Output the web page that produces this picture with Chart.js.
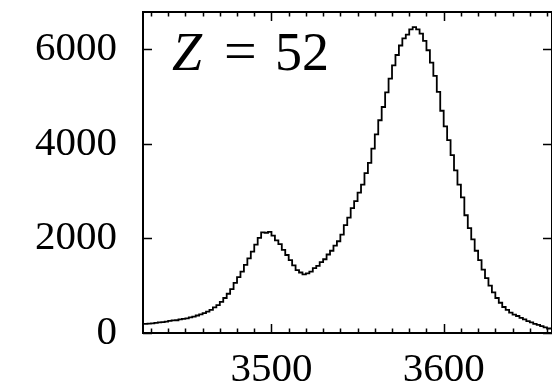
<!DOCTYPE html>
<html>
<head>
<meta charset="utf-8">
<script src="https://cdn.jsdelivr.net/npm/chart.js@4"></script>
<style>
  html, body { margin: 0; padding: 0; background: #fff; }
  #c { display: block; }
</style>
</head>
<body>
<canvas id="c" width="552" height="389"></canvas>
<script>
// histogram, Z = 52, bins of width 2 starting at 3426
const binStart = 3426;
const binWidth = 2;
const counts = [
  190, 195, 200, 205, 215, 225, 230, 240, 255, 265,
  270, 290, 300, 310, 330, 345, 370, 395, 420, 450,
  490, 540, 590, 660, 740, 830, 930, 1060, 1180, 1300,
  1440, 1580, 1720, 1870, 2010, 2130, 2120, 2140, 2060, 1960,
  1880, 1760, 1650, 1540, 1430, 1330, 1280, 1240, 1260, 1300,
  1370, 1420, 1500, 1560, 1660, 1740, 1850, 1940, 2080, 2280,
  2440, 2640, 2790, 2970, 3140, 3380, 3600, 3900, 4200, 4500,
  4780, 5090, 5380, 5660, 5880, 6080, 6230, 6310, 6420, 6470,
  6420, 6330, 6180, 5980, 5720, 5440, 5100, 4700, 4370, 4080,
  3760, 3440, 3140, 2870, 2490, 2220, 1980, 1740, 1540, 1340,
  1160, 1000, 860, 740, 640, 550, 490, 430, 390, 360,
  320, 290, 250, 225, 195, 170, 145, 120, 95
];
const xTickLabels = [3500, 3600];
const yTickLabels = [0, 2000, 4000, 6000];
const label = ['Z', '=', '52'];

const points = counts.map((c, i) => ({ x: binStart + i * binWidth, y: c }));
points.push({ x: binStart + counts.length * binWidth, y: counts[counts.length - 1] });

const serif = '"Liberation Serif", "DejaVu Serif", serif';

const frame = {
  id: 'frame',
  afterDatasetsDraw(chart) {
    const { ctx, chartArea: a, scales: { x, y } } = chart;
    ctx.save();
    ctx.strokeStyle = '#000';
    ctx.lineWidth = 2;
    ctx.strokeRect(a.left, a.top, a.right - a.left, a.bottom - a.top);
    ctx.lineWidth = 1.5;
    ctx.beginPath();
    for (let v = Math.ceil(x.min / 10) * 10; v <= x.max; v += 10) {
      const px = Math.round(x.getPixelForValue(v)) + 0.5;
      const len = v % 100 === 0 ? 9 : 4.5;
      ctx.moveTo(px, a.bottom); ctx.lineTo(px, a.bottom - len);
      ctx.moveTo(px, a.top); ctx.lineTo(px, a.top + len);
    }
    yTickLabels.forEach(v => {
      const py = Math.round(y.getPixelForValue(v)) + 0.5;
      ctx.moveTo(a.left, py); ctx.lineTo(a.left + 9, py);
      ctx.moveTo(a.right, py); ctx.lineTo(a.right - 9, py);
    });
    ctx.stroke();

    // Z = 52
    ctx.fillStyle = '#000';
    ctx.textBaseline = 'alphabetic';
    const base = a.top + 58;
    ctx.font = 'italic 54px ' + serif;
    ctx.fillText(label[0], a.left + 29, base);
    ctx.font = '58px ' + serif;
    ctx.fillText(label[1], a.left + 81, base);
    ctx.font = '54px ' + serif;
    ctx.fillText(label[2], a.left + 132, base);
    ctx.restore();
  }
};

new Chart(document.getElementById('c'), {
  type: 'line',
  data: {
    datasets: [{
      data: points,
      stepped: 'after',
      borderColor: '#000',
      borderWidth: 1.8,
      pointRadius: 0,
      fill: false
    }]
  },
  options: {
    responsive: false,
    animation: false,
    devicePixelRatio: 1,
    layout: { padding: { top: 12, right: 0, left: 0, bottom: 0 } },
    plugins: { legend: { display: false }, tooltip: { enabled: false } },
    scales: {
      x: {
        type: 'linear',
        min: 3425.4,
        max: 3662.9,
        grid: { display: false, drawTicks: false },
        border: { display: false },
        afterBuildTicks: s => { s.ticks = xTickLabels.map(v => ({ value: v })); },
        afterFit: s => { s.height = 56; s.paddingLeft = 0; s.paddingRight = 0; },
        ticks: { color: '#000', font: { family: serif, size: 41 }, padding: 13, maxRotation: 0,
                 callback: v => String(v) }
      },
      y: {
        min: 0,
        max: 6789,
        grid: { display: false, drawTicks: false },
        border: { display: false },
        afterBuildTicks: s => { s.ticks = yTickLabels.map(v => ({ value: v })); },
        afterFit: s => { s.width = 143; s.paddingTop = 0; s.paddingBottom = 0; },
        ticks: { color: '#000', font: { family: serif, size: 41 }, padding: 26,
                 callback: v => String(v) }
      }
    }
  },
  plugins: [frame]
});
</script>
</body>
</html>
